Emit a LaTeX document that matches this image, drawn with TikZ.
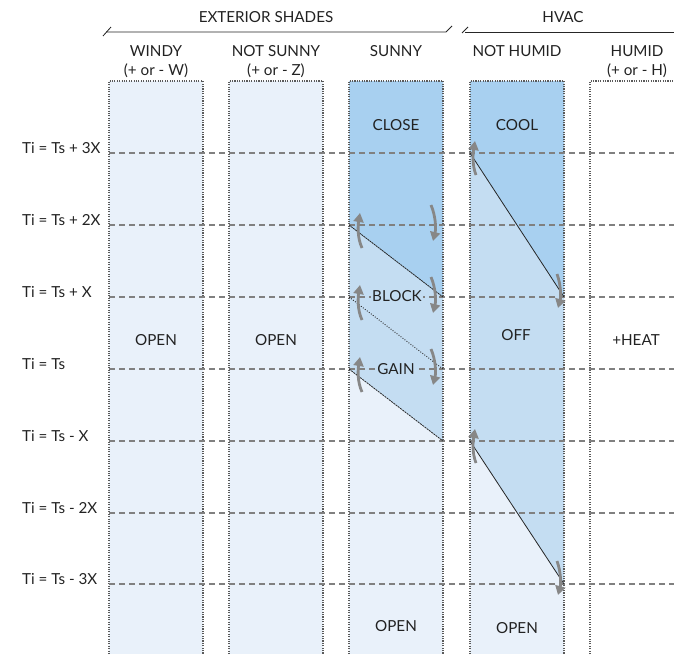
\documentclass[tikz,border=0pt]{standalone}
\usepackage{fontspec}
\setmainfont{Lato}
\usetikzlibrary{arrows.meta}
\definecolor{lightb}{HTML}{E9F1FA}
\definecolor{medb}{HTML}{C4DDF2}
\definecolor{darkb}{HTML}{A8D0F0}
\definecolor{arrowgray}{HTML}{878787}
\definecolor{dashgray}{HTML}{808080}
\definecolor{boxgray}{HTML}{5A5A5A}
\definecolor{txt}{HTML}{222222}
\begin{document}
\begin{tikzpicture}[x=1pt,y=-1pt,
  lbl/.style={font=\fontsize{15.2}{17}\selectfont, text=txt, inner sep=0pt},
  boxborder/.style={draw=boxgray, line width=1.1pt, dash pattern=on 1.1pt off 1.3pt},
  levelline/.style={draw=dashgray, line width=1.8pt, dash pattern=on 6pt off 4pt},
  diag/.style={draw=black!85, line width=0.8pt},
  flipar/.style={draw=arrowgray, line width=2.8pt, -{Triangle[width=10pt,length=9pt]}},
  hdrline/.style={draw=black!85, line width=0.8pt},
]
\useasboundingbox (0,0) rectangle (674,654);

% ---------- column fills ----------
\fill[lightb] (109,81) rectangle (203,654);
\fill[lightb] (229,81) rectangle (323,654);
% SUNNY
\fill[lightb] (349,81) rectangle (443,654);
\fill[medb] (349,81) -- (443,81) -- (443,441) -- (349,369) -- cycle;
\fill[darkb] (349,81) -- (443,81) -- (443,297) -- (349,225) -- cycle;
% NOT HUMID
\fill[lightb] (470,81) rectangle (564,654);
\fill[medb] (470,81) -- (564,81) -- (564,584) -- (470,441) -- cycle;
\fill[darkb] (470,81) -- (564,81) -- (564,297) -- (470,153) -- cycle;

% ---------- column borders ----------
\draw[boxborder] (109,654) -- (109,81) -- (203,81) -- (203,654);
\draw[boxborder] (229,654) -- (229,81) -- (323,81) -- (323,654);
\draw[boxborder] (349,654) -- (349,81) -- (443,81) -- (443,654);
\draw[boxborder] (470,654) -- (470,81) -- (564,81) -- (564,654);
\draw[boxborder] (590,654) -- (590,81) -- (674,81);

% ---------- level lines ----------
\foreach \yy in {153,225,297,369,441,513,584}{
  \draw[levelline] (109,\yy) -- (674,\yy);
}

% ---------- diagonals ----------
\draw[diag, dash pattern=on 2pt off 0.6pt] (349,225) -- (443,297);
\draw[diag, line width=0.9pt, dash pattern=on 0.9pt off 1.6pt] (349,297) -- (443,369);
\draw[diag, dash pattern=on 2pt off 0.8pt] (349,369) -- (443,441);
\draw[diag] (470,153) -- (564,297);
\draw[diag] (470,441) -- (564,584);

% ---------- headers ----------
\node[lbl, anchor=base] (hext) at (266,22.7) {EXTERIOR SHADES};
\node[lbl, anchor=base] (hhvac) at (563,22.7) {HVAC};
\draw[hdrline] (103,36) -- (111,27);
\draw[hdrline] (106,32) -- (446,32) -- (452,26);
\draw[hdrline] (462,33) -- (468,27);
\draw[hdrline] (465,32) -- (674,32);

\node[lbl, anchor=base] (cwindy) at (156,56) {WINDY};
\node[lbl, anchor=base] (cwindy2) at (156,75) {(+ or - W)};
\node[lbl, anchor=base] (cns) at (276,56) {NOT SUNNY};
\node[lbl, anchor=base] (cns2) at (276,75) {(+ or - Z)};
\node[lbl, anchor=base] (csunny) at (396,56) {SUNNY};
\node[lbl, anchor=base] (cnh) at (517,56) {NOT HUMID};
\node[lbl, anchor=base] (ch) at (637,56) {HUMID};
\node[lbl, anchor=base] (ch2) at (637,75) {(+ or - H)};

% ---------- left labels ----------
\node[lbl, anchor=base west] (t3p) at (22,153) {Ti = Ts + 3X};
\node[lbl, anchor=base west] (t2p) at (22,225) {Ti = Ts + 2X};
\node[lbl, anchor=base west] (t1p) at (22,297) {Ti = Ts + X};
\node[lbl, anchor=base west] (t0) at (22,369) {Ti = Ts};
\node[lbl, anchor=base west] (t1m) at (22,441) {Ti = Ts - X};
\node[lbl, anchor=base west] (t2m) at (22,513) {Ti = Ts - 2X};
\node[lbl, anchor=base west] (t3m) at (22,584) {Ti = Ts - 3X};

% ---------- column texts ----------
\node[lbl, anchor=base] (close) at (396,130) {CLOSE};
\node[lbl, anchor=base] (cool) at (517,130) {COOL};
\node[lbl, anchor=base, fill=medb, inner sep=0.8pt] (block) at (397,301.5) {BLOCK};
\node[lbl, anchor=base, fill=medb, inner sep=0.8pt] (gain) at (396,374.5) {GAIN};
\node[lbl, anchor=base] (open1) at (156,345) {OPEN};
\node[lbl, anchor=base] (open2) at (276,345) {OPEN};
\node[lbl, anchor=base] (off) at (516,340) {OFF};
\node[lbl, anchor=base] (heat) at (636,345) {+HEAT};
\node[lbl, anchor=base] (open3) at (396,631) {OPEN};
\node[lbl, anchor=base] (open4) at (517,633) {OPEN};

% ---------- flip arrows ----------
\foreach \yy in {225,297,369}{
  \coordinate (ua\yy) at (362,\yy+23);
  \coordinate (ub\yy) at (360,\yy-12);
  \draw[flipar] (ua\yy) .. controls (357,\yy+12) and (358,\yy) .. (ub\yy);
  \coordinate (da\yy) at (431,\yy-20);
  \coordinate (db\yy) at (433,\yy+16);
  \draw[flipar] (da\yy) .. controls (436,\yy-8) and (436,\yy+4) .. (db\yy);
}
\foreach \yy in {153,441}{
  \coordinate (va\yy) at (476,\yy+22);
  \coordinate (vb\yy) at (475,\yy-12);
  \draw[flipar] (va\yy) .. controls (472,\yy+12) and (473,\yy) .. (vb\yy);
}
\foreach \yy in {297,584}{
  \coordinate (wa\yy) at (557,\yy-23);
  \coordinate (wb\yy) at (558,\yy+11);
  \draw[flipar] (wa\yy) .. controls (561,\yy-12) and (561,\yy) .. (wb\yy);
}
\end{tikzpicture}
\end{document}
